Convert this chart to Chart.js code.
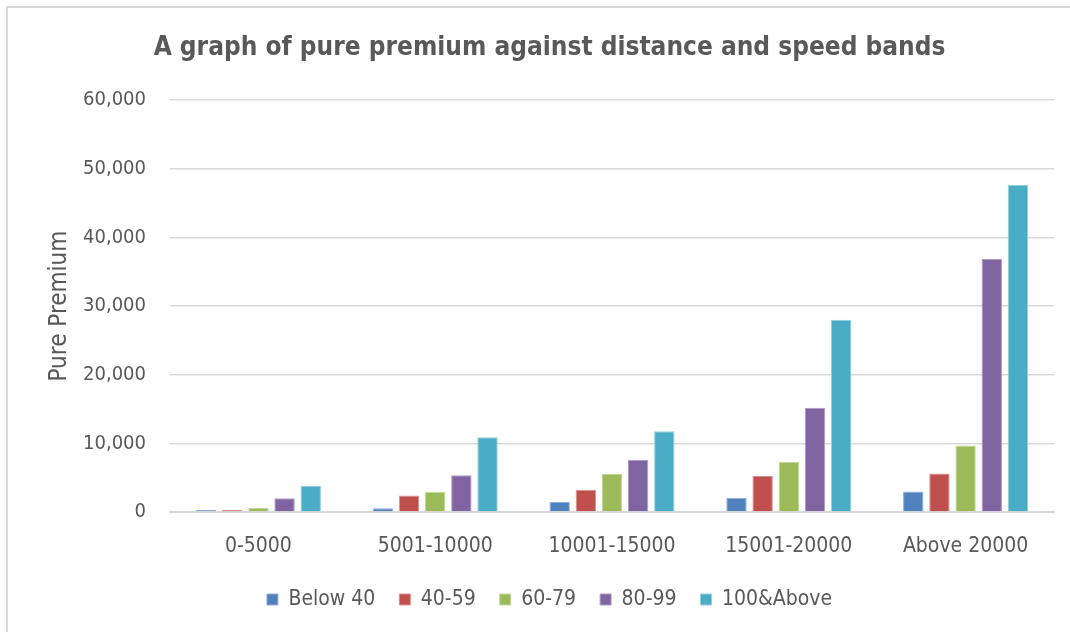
<!DOCTYPE html>
<html>
<head>
<meta charset="utf-8">
<script src="https://cdn.jsdelivr.net/npm/chart.js@4/dist/chart.umd.min.js"></script>
<style>
  html, body { margin: 0; padding: 0; background: #fff; overflow: hidden; }
  canvas { display: block; }
</style>
</head>
<body>
<canvas id="premiumChart" width="1070" height="632"></canvas>
<script>
const distance_bands = ['0-5000', '5001-10000', '10001-15000', '15001-20000', 'Above 20000'];
const speed_bands = ['Below 40', '40-59', '60-79', '80-99', '100&Above'];

const below40 = [300, 560, 1470, 2050, 3000];
const s40_59 = [300, 2400, 3250, 5250, 5600];
const s60_79 = [600, 2950, 5550, 7300, 9700];
const s80_99 = [2000, 5350, 7600, 15200, 36850];
const s100up = [3800, 10900, 11750, 28000, 47650];

const bar_colors = ['#4F81BD', '#C0504D', '#9BBB59', '#8064A2', '#4BACC6'];
const edge_colors = ['#8fb0d8', '#d98f8d', '#c4d89e', '#ae9bc6', '#92cfdf'];

const FONT = '"DejaVu Sans Condensed", "Liberation Sans", sans-serif';
const GREY = '#595959';

const series = [below40, s40_59, s60_79, s80_99, s100up];

// light frame round the chart (top and left edges only show in the picture)
const frame = {
    id : 'frame',
    beforeDraw(chart) {
        const c = chart.ctx;
        c.save();
        c.strokeStyle = '#d9d9d9';
        c.lineWidth = 2;
        c.beginPath();
        c.moveTo(7, chart.height);
        c.lineTo(7, 7);
        c.lineTo(chart.width, 7);
        c.stroke();
        c.restore();
    }
};

const ctx = document.getElementById('premiumChart').getContext('2d');
const premiumChart = new Chart(ctx, {
    type : 'bar',
    data : {
        labels : distance_bands,
        datasets : series.map((vals, i) => ({
            label : speed_bands[i],
            data : vals,
            backgroundColor : bar_colors[i],
            borderColor : edge_colors[i],
            borderWidth : 1,
            categoryPercentage : 0.74,
            barPercentage : 0.78
        }))
    },
    options : {
        responsive : false,
        animation : false,
        layout : { padding : { left : 45, right : 16, top : 0, bottom : 12 } },
        plugins : {
            title : {
                display : true,
                text : 'A graph of pure premium against distance and speed bands',
                color : GREY,
                font : { family : FONT, size : 26, weight : 'bold' },
                padding : { top : 33, bottom : 36 }
            },
            legend : {
                position : 'bottom',
                labels : {
                    color : GREY,
                    font : { family : FONT, size : 21 },
                    boxWidth : 11,
                    boxHeight : 11,
                    padding : 24
                }
            },
            tooltip : { enabled : false }
        },
        scales : {
            x : {
                grid : { display : false, drawTicks : false },
                border : { color : '#d9d9d9', width : 2 },
                ticks : { color : GREY, font : { family : FONT, size : 21 }, padding : 22 },
                afterFit : scale => { scale.height = 53; }
            },
            y : {
                min : 0,
                max : 60000,
                ticks : {
                    stepSize : 10000,
                    color : GREY,
                    font : { family : FONT, size : 20 },
                    padding : 24,
                    callback : v => v.toLocaleString('en-US')
                },
                grid : { color : '#d9d9d9', lineWidth : 1.5, drawTicks : false },
                border : { display : false },
                title : {
                    display : true,
                    text : 'Pure Premium',
                    color : GREY,
                    font : { family : FONT, size : 24 },
                    padding : { top : 0, bottom : 10 }
                },
                afterFit : scale => { scale.width = 125; }
            }
        }
    },
    plugins : [frame]
});
</script>
</body>
</html>
